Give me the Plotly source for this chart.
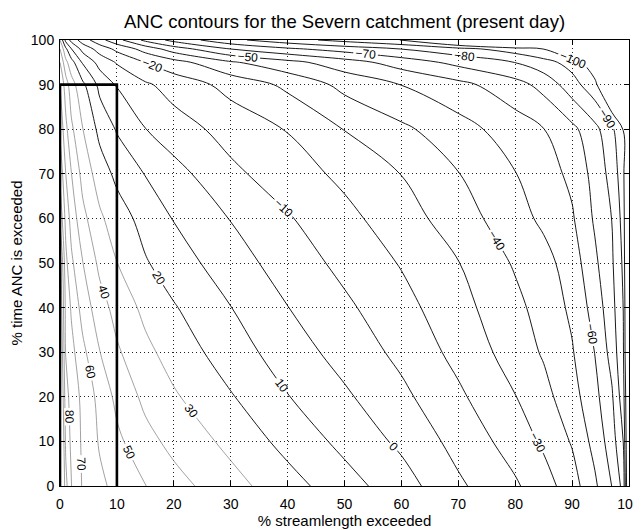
import plotly.graph_objects as go

# grid positions (% streamlength exceeded, % time exceeded)
x_pct = [0, 1, 2, 4, 7, 10, 15, 20, 30, 40, 50, 60, 70, 80, 85, 90, 94, 97, 99, 100]
y_pct = [0, 10, 20, 30, 40, 50, 60, 70, 80, 90, 95, 98, 100]

# ANC values, one row per y_pct value
anc_y0 = [130, 93.3, 80.2, 68.9, 62.2, 57.1, 50.2, 43.75, 33.6, 24, 14, 4.5, -8.3, -18.7, -25.5, -35.5, -48.2, -60.2, -73.3, -120]
anc_y10 = [125, 88.3, 77.5, 68.3, 58.9, 52.2, 43.3, 37.1, 27.3, 16.7, 7.3, -2.1, -13.4, -24.3, -31.8, -40.9, -53.3, -65, -80.2, -120]
anc_y20 = [120, 84, 76.2, 67.4, 56.7, 47.5, 37.5, 31.25, 20.8, 10.4, 1.6, -7.7, -18.2, -29.7, -36.7, -46.1, -57, -68.7, -85.7, -120]
anc_y30 = [115, 79.4, 73.1, 62.5, 50.2, 41.4, 32.5, 25.9, 14.8, 5, -3.8, -12.5, -23, -34.5, -41.1, -49.2, -60.2, -73.7, -88.9, -125]
anc_y40 = [110, 77.3, 68.7, 55.9, 44.1, 36.5, 27.4, 20.8, 10.2, 0.2, -8.1, -16.6, -26.5, -37.4, -43.9, -51.9, -64, -76.5, -90.2, -125]
anc_y50 = [105, 72.9, 62, 50.2, 37.5, 30.2, 20.9, 14.9, 4.5, -4.5, -12.7, -20.7, -29.7, -41.1, -46.5, -54.7, -68, -78.6, -91.7, -130]
anc_y60 = [88, 67.1, 56.2, 42.9, 31.7, 24.8, 16.3, 9.5, -0.4, -9.1, -17.2, -25.5, -35.1, -46.2, -52, -58.8, -71.4, -80.2, -93.75, -130]
anc_y70 = [78, 60.2, 50.2, 36.5, 25, 17.6, 9.6, 3.6, -7.8, -15.3, -22.3, -30.2, -39.7, -49.7, -55.3, -62.4, -73.4, -83.5, -96.4, -130]
anc_y80 = [68, 52.9, 42, 30.2, 17.1, 9.1, 0.2, -5.4, -13.75, -20.5, -30.3, -38, -46.1, -55, -59.8, -67.4, -77, -88, -100.2, -135]
anc_y90 = [60, 45, 34.2, 22.1, 7.1, -0.8, -8.5, -14, -23.3, -32.2, -42.9, -50.2, -57.1, -66.3, -73.3, -85.7, -97.1, -120, -140, -150]
anc_y95 = [50, 32.9, 23.8, 8.8, -3.75, -10.9, -20.2, -26.25, -38.75, -46.9, -55.5, -64.5, -72.9, -80.2, -86.25, -94, -108.6, -134, -151, -160]
anc_y98 = [40, 22.2, 10.2, -3.5, -14.3, -22.5, -34, -45, -60.2, -68.3, -74.4, -80.2, -86.7, -95, -100.2, -123.3, -142, -156, -165, -170]
anc_y100 = [30, 7.1, -3.3, -15, -26.7, -36.7, -52.5, -63.3, -77.5, -86.2, -93.3, -100.2, -120, -140, -150, -160, -168, -174, -178, -180]

anc = [anc_y0, anc_y10, anc_y20, anc_y30, anc_y40, anc_y50, anc_y60,
       anc_y70, anc_y80, anc_y90, anc_y95, anc_y98, anc_y100]

# outlined region (x limit, y limit)
box_x = [0, 0, 10, 10]
box_y = [0, 90, 90, 0]

FONT = "Arial, Liberation Sans, Helvetica, sans-serif"
W, H = 633, 522  # page body adds an 8px margin; keep within the 641x530 window

fig = go.Figure()

fig.add_trace(go.Contour(
    x=x_pct, y=y_pct, z=anc,
    autocontour=False,
    contours=dict(start=-100, end=20, size=10, coloring="lines",
                  showlabels=True,
                  labelfont=dict(size=12, color="black", family=FONT)),
    line=dict(width=0.9),
    colorscale=[[0, "black"], [1, "black"]],
    showscale=False, hoverinfo="skip",
))

fig.add_trace(go.Contour(
    x=x_pct, y=y_pct, z=anc,
    autocontour=False,
    contours=dict(start=30, end=100, size=10, coloring="lines",
                  showlabels=True,
                  labelfont=dict(size=12, color="black", family=FONT)),
    line=dict(width=0.8),
    colorscale=[[0, "#8a8a8a"], [1, "#8a8a8a"]],
    showscale=False, hoverinfo="skip",
))

fig.add_trace(go.Scatter(
    x=box_x, y=box_y, mode="lines",
    line=dict(color="black", width=2.6),
    showlegend=False, hoverinfo="skip",
))

axis_common = dict(
    range=[0, 100], dtick=10, tick0=0,
    showgrid=True, gridcolor="#222222", griddash="1px,3px", gridwidth=1.2,
    ticks="inside", ticklen=5, tickcolor="black",
    showline=True, linecolor="black", linewidth=1, mirror="ticks",
    zeroline=False, automargin=False,
    tickfont=dict(size=14, color="black", family=FONT),
)

fig.update_layout(
    width=W, height=H,
    paper_bgcolor="white", plot_bgcolor="white",
    margin=dict(l=52, r=12, t=32, b=44),
    font=dict(family=FONT, color="black"),
    title=dict(text="ANC contours for the Severn catchment (present day)",
               x=0.5, xref="paper", xanchor="center",
               y=1 - 14 / H, yref="container", yanchor="middle",
               font=dict(size=18.5, color="black", family=FONT)),
    xaxis=dict(axis_common, ticklabelstandoff=5,
               title=dict(text="% streamlength exceeded", standoff=4,
                          font=dict(size=15, color="black", family=FONT))),
    yaxis=dict(axis_common, ticklabelstandoff=2,
               title=dict(text="% time ANC is exceeded", standoff=4,
                          font=dict(size=15, color="black", family=FONT))),
    showlegend=False,
)

# hide page scrollbars so the full window width stays visible
fig.write_html(
    "out.html",
    post_script="document.documentElement.style.overflow='hidden';"
                "document.body.style.overflow='hidden';",
)
